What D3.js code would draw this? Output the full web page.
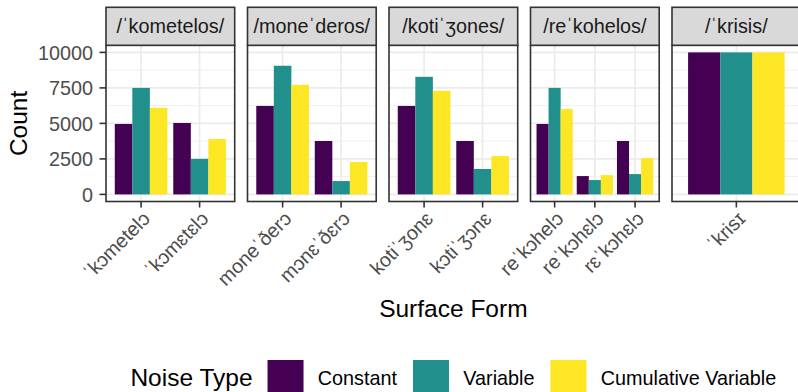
<!DOCTYPE html>
<html>
<head>
<meta charset="utf-8">
<script src="https://cdn.jsdelivr.net/npm/d3@7"></script>
<style>
  html, body { margin: 0; padding: 0; background: #fff; }
  svg { display: block; font-family: "Liberation Sans", Arial, Helvetica, sans-serif; }
</style>
</head>
<body>
<svg id="chart" width="798" height="392"></svg>
<script>
// ---------------- data ----------------
const facets = ["/ˈkometelos/", "/moneˈderos/", "/kotiˈʒones/", "/reˈkohelos/", "/ˈkrisis/"];
const forms = ["ˈkɔmetelɔ", "ˈkɔmɛtɛlɔ", "moneˈðerɔ", "mɔnɛˈðɛrɔ", "kotiˈʒonɛ", "kɔtiˈʒɔnɛ",
               "reˈkɔhelɔ", "reˈkɔhɛlɔ", "rɛˈkɔhɛlɔ", "ˈkrisɪ"];
const formFacet = [0, 0, 1, 1, 2, 2, 3, 3, 3, 4];
const seriesNames = ["Constant", "Variable", "Cumulative Variable"];
const constantVals   = [4960, 5030, 6230, 3760, 6230, 3760, 4960, 1290, 3760, 10000];
const variableVals   = [7500, 2500, 9060,  940, 8280, 1790, 7500, 1010, 1430, 10000];
const cumulativeVals = [6100, 3900, 7720, 2280, 7300, 2700, 6020, 1360, 2560, 10000];
const yTicks = [0, 2500, 5000, 7500, 10000];
const yMinor = [1250, 3750, 6250, 8750];
const colors = ["#440154", "#21908C", "#FDE725"];

const seriesVals = [constantVals, variableVals, cumulativeVals];

// ---------------- layout ----------------
const svg = d3.select("#chart");
svg.append("rect").attr("width", 798).attr("height", 392).attr("fill", "#fff");

const plotLeft = 106, panelW = 128.7, gap = 12.8;
const stripTop = 7.3, panelTop = 45.3, panelBottom = 201.5;
const textSmall = 19.8, textTitle = 24.5;

const y = d3.scaleLinear().domain([-500, 10500]).range([panelBottom, panelTop]);

const fx = d3.scaleBand().domain(d3.range(facets.length))
  .range([plotLeft, plotLeft + facets.length * panelW + (facets.length - 1) * gap])
  .paddingInner(gap / (panelW + gap)).paddingOuter(0);

facets.forEach((fname, fi) => {
  const idx = d3.range(forms.length).filter(i => formFacet[i] === fi);
  const x0 = fx(fi), w = fx.bandwidth();
  const n = idx.length;
  // ggplot discrete expansion: 0.6 units each side
  const unit = w / (n - 1 + 1.2);
  const centers = idx.map((_, k) => x0 + (0.6 + k) * unit);
  const xs = d3.scaleOrdinal().domain(idx).range(centers);
  const inner = d3.scaleBand().domain(d3.range(3)).range([-0.45 * unit, 0.45 * unit]).padding(0);

  const g = svg.append("g");
  g.append("rect").attr("x", x0).attr("y", panelTop).attr("width", w).attr("height", panelBottom - panelTop)
    .attr("fill", "#fff");
  g.selectAll(".ymin").data(yMinor).join("line")
    .attr("x1", x0).attr("x2", x0 + w).attr("y1", d => y(d)).attr("y2", d => y(d))
    .attr("stroke", "#EBEBEB").attr("stroke-width", 0.8);
  g.selectAll(".ymaj").data(yTicks).join("line")
    .attr("x1", x0).attr("x2", x0 + w).attr("y1", d => y(d)).attr("y2", d => y(d))
    .attr("stroke", "#EBEBEB").attr("stroke-width", 1.6);
  g.selectAll(".xmaj").data(idx).join("line")
    .attr("x1", d => xs(d)).attr("x2", d => xs(d)).attr("y1", panelTop).attr("y2", panelBottom)
    .attr("stroke", "#EBEBEB").attr("stroke-width", 1.6);
  idx.forEach(i => {
    seriesVals.forEach((vals, s) => {
      g.append("rect")
        .attr("x", xs(i) + inner(s))
        .attr("width", inner.bandwidth())
        .attr("y", y(vals[i]))
        .attr("height", y(0) - y(vals[i]))
        .attr("fill", colors[s]);
    });
  });
  g.append("rect").attr("x", x0).attr("y", panelTop).attr("width", w).attr("height", panelBottom - panelTop)
    .attr("fill", "none").attr("stroke", "#333333").attr("stroke-width", 1.6);
  g.append("rect").attr("x", x0).attr("y", stripTop).attr("width", w).attr("height", panelTop - stripTop)
    .attr("fill", "#D9D9D9").attr("stroke", "#333333").attr("stroke-width", 1.6);
  g.append("text").attr("x", x0 + w / 2).attr("y", (stripTop + panelTop) / 2)
    .attr("dy", "0.36em").attr("text-anchor", "middle")
    .attr("font-size", textSmall).attr("fill", "#1A1A1A").text(fname);
  g.selectAll(".xt").data(idx).join("line")
    .attr("x1", d => xs(d)).attr("x2", d => xs(d)).attr("y1", panelBottom).attr("y2", panelBottom + 6)
    .attr("stroke", "#333333").attr("stroke-width", 1.6);
  g.selectAll(".xl").data(idx).join("text")
    .attr("transform", d => `translate(${xs(d)},${panelBottom + 8.5}) rotate(-45)`)
    .attr("text-anchor", "end").attr("dy", "0.72em")
    .attr("font-size", textSmall).attr("fill", "#4D4D4D")
    .text(d => forms[d]);

  if (fi === 0) {
    g.selectAll(".yt").data(yTicks).join("line")
      .attr("x1", x0 - 6.5).attr("x2", x0).attr("y1", d => y(d)).attr("y2", d => y(d))
      .attr("stroke", "#333333").attr("stroke-width", 1.6);
    g.selectAll(".yl").data(yTicks).join("text")
      .attr("x", x0 - 13).attr("y", d => y(d)).attr("dy", "0.36em")
      .attr("text-anchor", "end").attr("font-size", textSmall).attr("fill", "#4D4D4D")
      .text(d => d);
  }
});

const plotRight = fx(facets.length - 1) + fx.bandwidth();
svg.append("text").attr("x", (plotLeft + plotRight) / 2).attr("y", 317)
  .attr("text-anchor", "middle").attr("font-size", textTitle).attr("fill", "#000").text("Surface Form");
svg.append("text").attr("transform", `translate(26.5,${(panelTop + panelBottom) / 2}) rotate(-90)`)
  .attr("text-anchor", "middle").attr("font-size", textTitle).attr("fill", "#000").text("Count");

// legend
const leg = svg.append("g");
const keyY = 360, keySize = 36;
const title = leg.append("text").attr("y", 386).attr("font-size", textTitle).attr("fill", "#000").text("Noise Type");
const titleW = title.node().getComputedTextLength();
let cx = titleW + 15;
seriesNames.forEach((nm, s) => {
  const kx = cx;
  leg.append("rect").attr("x", kx).attr("y", keyY).attr("width", keySize).attr("height", keySize)
    .attr("fill", colors[s]);
  const t = leg.append("text").attr("x", kx + keySize + 14.3).attr("y", 385)
    .attr("font-size", textSmall).attr("fill", "#000").text(nm);
  const tw = t.node().getComputedTextLength();
  cx = kx + keySize + 14.3 + tw + 16;
});
const legW = cx - 16;
leg.attr("transform", `translate(${(plotLeft + plotRight) / 2 - legW / 2},0)`);
</script>
</body>
</html>
